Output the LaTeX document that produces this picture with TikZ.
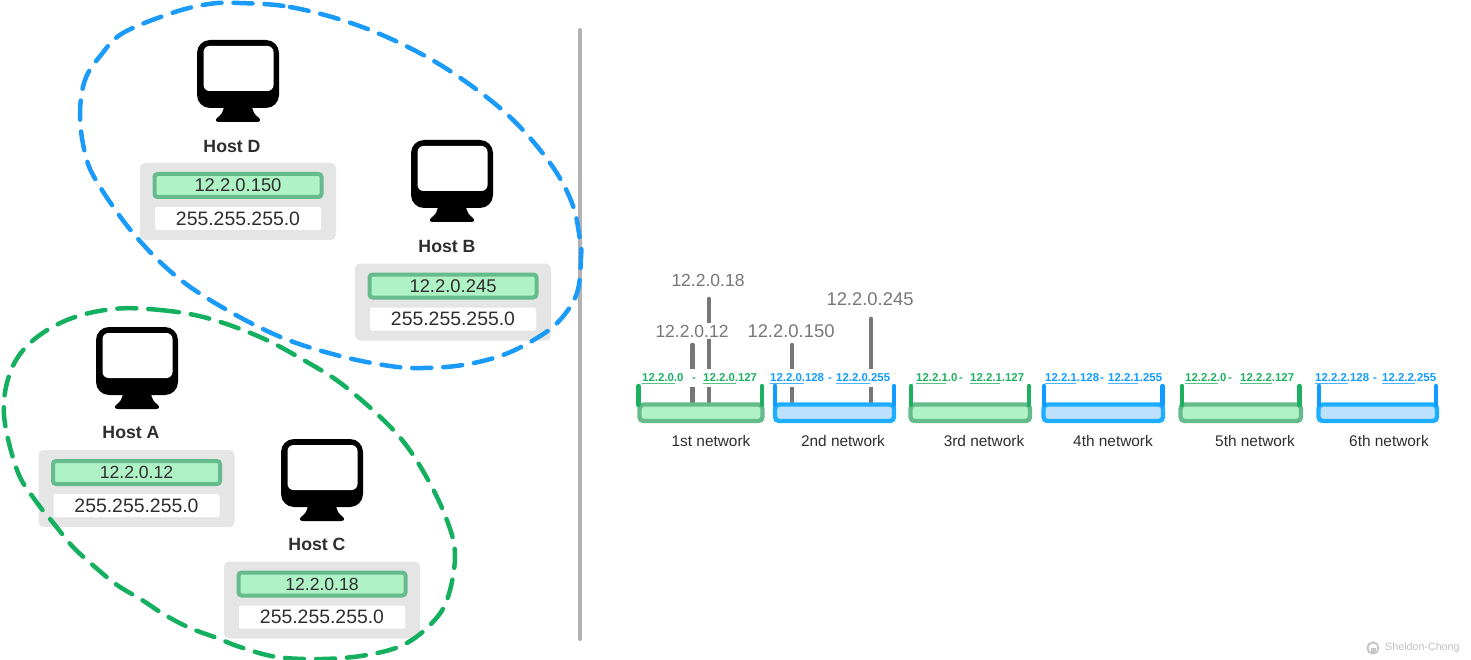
\documentclass[tikz,border=0pt]{standalone}
\usepackage{fontspec}
\setmainfont{Liberation Sans}
\definecolor{gbord}{HTML}{66BB8C}
\definecolor{gfill}{HTML}{AFF2C6}
\definecolor{gtick}{HTML}{1DB060}
\definecolor{bbord}{HTML}{1EAEFF}
\definecolor{bfill}{HTML}{BDE0FC}
\definecolor{btick}{HTML}{0F9BFF}
\definecolor{cardgrey}{HTML}{E5E5E5}
\definecolor{bargrey}{HTML}{777777}
\definecolor{inkc}{HTML}{2E2E2E}
\definecolor{blueloop}{HTML}{1A9BFA}
\definecolor{greenloop}{HTML}{14B060}
\newcommand{\fs}[1]{\fontsize{#1}{#1}\selectfont}
\tikzset{
  x=1pt,y=-1pt,
  loopline/.style={line width=4.5pt,line cap=round,dash pattern=on 19pt off 12pt},
  card/.style={fill=cardgrey,rounded corners=5pt,minimum width=196pt,minimum height=77pt,inner sep=0pt},
  ipbox/.style={draw=gbord,line width=4pt,fill=gfill,rounded corners=3pt,minimum width=167pt,minimum height=23pt,inner sep=0pt,font=\fs{18.4},text=inkc},
  maskbox/.style={fill=white,rounded corners=2pt,minimum width=166pt,minimum height=23pt,inner sep=0pt,font=\fs{19.4},text=inkc},
  hostname/.style={inner sep=0pt,font=\fs{17.7}\bfseries,text=inkc},
  addr/.style={inner sep=1.5pt,fill=white,font=\fs{18.4},text=bargrey},
  rng/.style={inner sep=0pt,font=\fs{11.4}\bfseries,anchor=base west},
  netname/.style={inner sep=0pt,font=\fs{15.4},text=inkc},
  tickbar/.style={line width=4.4pt,line cap=round},
  hostbar/.style={line width=4.6pt,bargrey,line cap=round},
  under/.style={line width=.7pt,opacity=.75},
}
\newcommand{\monitor}[2]{%
  \begin{scope}[shift={(#1,#2)}]
    \fill[black,rounded corners=13pt] (0,0) rectangle (82,68);
    \fill[black] (27,64) .. controls (27,72) and (24,75) .. (20,78) .. controls (18,80) and (19,82) .. (22,82) -- (60,82) .. controls (63,82) and (64,80) .. (62,78) .. controls (58,75) and (55,72) .. (55,64) -- cycle;
    \fill[white,rounded corners=6pt] (6.5,6) rectangle (76.5,51);
  \end{scope}}
\newcommand{\hostblock}[6]{% name, icon x,y  card x,y  label/ip in #6
  \monitor{#2}{#3}
  \node[card] (#1card) at (#4,#5) {};
  \node[maskbox] (#1mask) at ([yshift=-17pt]#1card.center) {255.255.255.0};
  #6}
\newcommand{\bucket}[5]{% name, x0, x1, border, fill
  \draw[line width=4.4pt,draw=#4,fill=#5,rounded corners=4pt] (#2,404.5) rectangle (#3,421);
}
\begin{document}
\begin{tikzpicture}
\useasboundingbox (0,0) rectangle (1471,660);
% hosts
\hostblock{d}{197}{40}{238}{201.5}{\node[ipbox] (dip) at ([yshift=16pt]dcard.center) {12.2.0.150};
  \node[hostname] (dname) at (232,146) {Host D};}
\hostblock{b}{411}{140}{453}{302}{\node[ipbox] (bip) at ([yshift=16pt]bcard.center) {12.2.0.245};
  \node[hostname] (bname) at (447,246) {Host B};}
\hostblock{a}{96}{327}{136.5}{488.5}{\node[ipbox,font=\fs{17.6}] (aip) at ([yshift=16pt]acard.center) {12.2.0.12};
  \node[hostname] (aname) at (131,432) {Host A};}
\hostblock{c}{281}{439}{322}{600}{\node[ipbox,font=\fs{17.6}] (cip) at ([yshift=16pt]ccard.center) {12.2.0.18};
  \node[hostname] (cname) at (317,544) {Host C};}
% divider
\draw[line width=4pt,color=black!30,line cap=round] (580,30) -- (580,639);
% groups
\draw[loopline,blueloop] plot[smooth cycle,tension=0.6] coordinates {(239,3) (290,7) (351,23) (408,47) (459,77) (510,117) (550,163) (572,203) (580,240) (581,258) (577,293) (560,320) (537,338) (503,355) (463,365) (423,368) (390,366) (340,356) (283,338) (227,310) (177,277) (133,233) (97,182) (85,153) (80,115) (85,80) (101,55) (123,33) (172,13) (209,4)};
\draw[loopline,greenloop] plot[smooth cycle,tension=0.6] coordinates {(113,309) (160,310) (207,318) (260,337) (307,362) (347,388) (397,434) (427,478) (448,523) (455,557) (447,600) (430,625) (403,645) (367,655) (323,659) (277,657) (240,647) (217,638) (190,628) (165,615) (142,600) (117,585) (95,567) (73,547) (55,525) (35,500) (17,470) (4,415) (10,373) (30,343) (67,320)};
% host bars
\coordinate (t12) at (692.5,345);   \coordinate (b12) at (692.5,402);
\coordinate (t18) at (709,299);     \coordinate (b18) at (709,402);
\coordinate (t150) at (792,345);    \coordinate (b150) at (792,402);
\coordinate (t245) at (871,319);    \coordinate (b245) at (871,402);
\draw[hostbar] (t12) -- (b12);
\draw[hostbar] (t18) -- (b18);
\draw[hostbar] (t150) -- (b150);
\draw[hostbar] (t245) -- (b245);
\node[addr,font=\fs{17.5}] (l18) at (708,280) {12.2.0.18};
\node[addr,font=\fs{17.5}] (l12) at (692,331) {12.2.0.12};
\node[addr] (l150) at (791,331) {12.2.0.150};
\node[addr] (l245) at (870,299) {12.2.0.245};
% white band for range labels
\fill[white] (640,369) rectangle (1440,387);
% buckets
\bucket{n1}{639.5}{762.5}{gbord}{gfill}
\bucket{n2}{775}{894}{bbord}{bfill}
\bucket{n3}{910.5}{1030}{gbord}{gfill}
\bucket{n4}{1043.5}{1163}{bbord}{bfill}
\bucket{n5}{1180.5}{1301}{gbord}{gfill}
\bucket{n6}{1318.5}{1437}{bbord}{bfill}
\foreach \xa/\xb/\c in {638.5/762/gtick,775/894/btick,911/1029/gtick,1044/1162.5/btick,1182/1299.5/gtick,1319/1436/btick}{
  \draw[tickbar,\c] (\xa,386) -- (\xa,405);
  \draw[tickbar,\c] (\xb,386) -- (\xb,405);
}
% range labels: x first, x dash, x second, underline ends
\foreach \tA/\xA/\xD/\tB/\xB/\uA/\uB/\c in {
  12.2.0.0/642/692/12.2.0.127/703/675/736/gtick,
  12.2.0.128/770/828/12.2.0.255/836/804/870/btick,
  12.2.1.0/916/959/12.2.1.127/970/946/1000/gtick,
  12.2.1.128/1045/1100/12.2.1.255/1108/1076/1138/btick,
  12.2.2.0/1185/1228/12.2.2.127/1240/1218/1272/gtick,
  12.2.2.128/1315/1373/12.2.2.255/1382/1348/1415/btick}{
  \node[rng,text=\c] at (\xA,381) {\tA};
  \node[rng,text=\c] at (\xD,381) {-};
  \node[rng,text=\c] at (\xB,381) {\tB};
  \draw[under,\c] (\xA,383.5) -- (\uA,383.5);
  \draw[under,\c] (\xB,383.5) -- (\uB,383.5);
}
% network names
\node[netname] (nn1) at (711,441) {1st network};
\node[netname] (nn2) at (843,441) {2nd network};
\node[netname] (nn3) at (984,441) {3rd network};
\node[netname] (nn4) at (1113,441) {4th network};
\node[netname] (nn5) at (1255,441) {5th network};
\node[netname] (nn6) at (1389,441) {6th network};
% credit
\draw[line width=2pt,color=black!22] (1373,648) circle[radius=5.6];
\fill[black!22] (1370.5,648) -- (1375.5,648) -- (1375.5,654) -- (1370.5,654) -- cycle;
\node[inner sep=0pt,font=\fs{10.7},text=black!25,anchor=west] (credit) at (1385,648) {Sheldon-Chong};
\end{tikzpicture}
\end{document}
